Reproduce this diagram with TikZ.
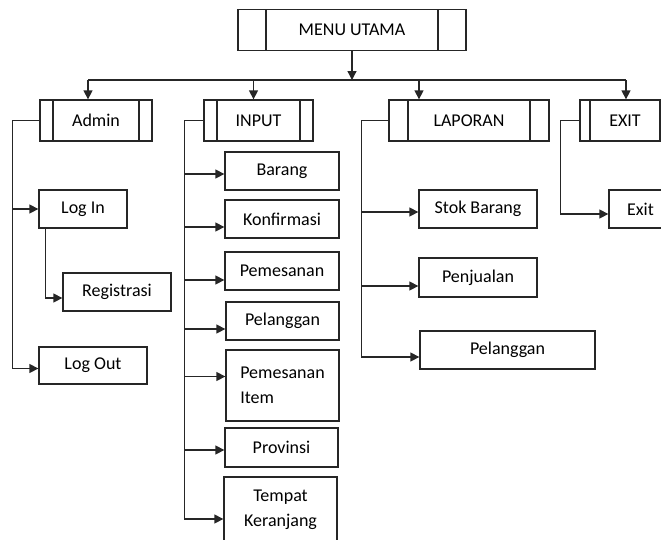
\documentclass[tikz,border=0pt]{standalone}
\usepackage{fontspec}
\setmainfont{Carlito}
\usetikzlibrary{arrows.meta, positioning}
\definecolor{garisAbu}{HTML}{262626}
\tikzset{
  kotakDasar/.style={
    draw=garisAbu, line width=1.3pt, inner sep=2pt,
    align=center, font=\fontsize{18}{25}\selectfont, text=black,
    fill=white
  },
  kotakMenu/.style={kotakDasar, minimum height=41pt,
    path picture={
      \draw[garisAbu, line width=1.3pt]
        ([xshift=#1]path picture bounding box.north west) -- ([xshift=#1]path picture bounding box.south west)
        ([xshift=-#1]path picture bounding box.north east) -- ([xshift=-#1]path picture bounding box.south east);
    }},
  kotakMenu/.default=13pt,
  kotakSub/.style={kotakDasar, minimum height=38pt},
  garis/.style={line width=1.3pt, garisAbu},
  panah/.style={garis, -{Triangle[length=9pt, width=9pt]}},
}

\begin{document}
\begin{tikzpicture}[x=1pt, y=-1pt]
    \useasboundingbox (0,0) rectangle (661,539);
    % menu utama dan menu pertama
    \node[kotakMenu=28pt, minimum width=228pt] (menuUtama) at (352,30) {MENU UTAMA};
    \node[kotakMenu, minimum width=112pt] (admin) at (96,120.5) {Admin};
    \node[kotakMenu, minimum width=109pt] (input) at (258.5,120.5) {INPUT};
    \node[kotakMenu=19pt, minimum width=160pt] (laporan) at (469,120.5) {LAPORAN};
    \node[kotakMenu=10pt, minimum width=90pt] (exitMenu) at (625,120.5) {EXIT};
    % submenu admin
    \node[kotakSub, minimum width=88pt] (login) at (83,209) {Log In};
    \node[kotakSub, minimum width=108pt] (registrasi) at (117,292) {Registrasi};
    \node[kotakSub, minimum width=108pt, minimum height=37pt] (logout) at (93,365.5) {Log Out};
    % submenu input
    \node[kotakSub, minimum width=114pt] (barang) at (282,171) {Barang};
    \node[kotakSub, minimum width=114pt] (konfirmasi) at (282,219) {Konfirmasi};
    \node[kotakSub, minimum width=114pt] (pemesanan) at (282,271) {Pemesanan};
    \node[kotakSub, minimum width=113pt] (pelanggan) at (282.5,321) {Pelanggan};
    \node[kotakSub, minimum width=113pt, minimum height=71pt, align=left] (pemesananItem) at (282.5,385.5) {Pemesanan\\Item};
    \node[kotakSub, minimum width=113pt, minimum height=39pt] (provinsi) at (281.5,447.5) {Provinsi};
    \node[kotakSub, minimum width=113pt, minimum height=66pt] (tempat) at (280.5,510) {Tempat\\Keranjang};
    % submenu laporan
    \node[kotakSub, minimum width=118pt] (stokBarang) at (478,209) {Stok Barang};
    \node[kotakSub, minimum width=118pt, minimum height=39pt] (penjualan) at (478,277.5) {Penjualan};
    \node[kotakSub, minimum width=175pt] (pelangganLap) at (507.5,350) {Pelanggan};
    % submenu exit
    \node[kotakSub, minimum width=63pt] (exitSub) at (640.5,209) {Exit};

    % cabang dari menu utama
    \coordinate (cabang) at (352,80);
    \coordinate (busKiri) at (88,80);
    \coordinate (busKanan) at (626,80);
    \draw[panah] (menuUtama.south) -- (cabang);
    \draw[garis] (busKiri) -- (busKanan);
    \draw[panah] (busKiri) -- (busKiri |- admin.north);
    \draw[panah] ([xshift=-5pt]input.north |- cabang) -- ([xshift=-5pt]input.north);
    \draw[panah] ([xshift=-50pt]laporan.north |- cabang) -- ([xshift=-50pt]laporan.north);
    \draw[panah] (busKanan) -- (busKanan |- exitMenu.north);

    % admin
    \draw[panah] (admin.west) -- ++(-27,0) |- (login.west);
    \draw[panah] (admin.west) -- ++(-27,0) |- ([yshift=-3pt]logout.west);
    \draw[panah] ([xshift=7pt]login.south west) |- ([yshift=-6pt]registrasi.west);

    % input
    \draw[panah] (input.west) -- ++(-19,0) |- ([yshift=-3pt]barang.west);
    \draw[panah] (input.west) -- ++(-19,0) |- ([yshift=-8pt]konfirmasi.west);
    \draw[panah] (input.west) -- ++(-19,0) |- ([yshift=-9pt]pemesanan.west);
    \draw[panah] (input.west) -- ++(-19,0) |- ([yshift=-8pt]pelanggan.west);
    \draw[panah] (input.west) -- ++(-19,0) |- ([yshift=9pt]pemesananItem.west);
    \draw[panah] (input.west) -- ++(-19,0) |- ([yshift=-2.5pt]provinsi.west);
    \draw[panah] (input.west) -- ++(-19,0) |- ([yshift=-9pt]tempat.west);

    % laporan
    \draw[panah] (laporan.west) -- ++(-27,0) |- ([yshift=-3pt]stokBarang.west);
    \draw[panah] (laporan.west) -- ++(-27,0) |- ([yshift=-8.5pt]penjualan.west);
    \draw[panah] (laporan.west) -- ++(-27,0) |- ([yshift=-7pt]pelangganLap.west);

    % exit
    \draw[panah] (exitMenu.west) -- ++(-19,0) |- ([yshift=-5pt]exitSub.west);
  \end{tikzpicture}
\end{document}
